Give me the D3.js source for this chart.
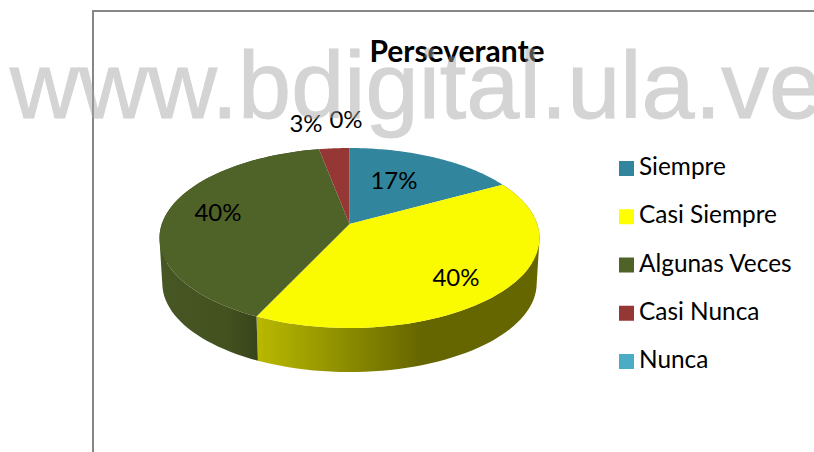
<!DOCTYPE html>
<html><head><meta charset="utf-8">
<script src="https://cdn.jsdelivr.net/npm/d3@7"></script>
<style>html,body{margin:0;padding:0;background:#fff}svg{display:block}</style>
</head><body><svg id="c" width="814" height="452"></svg>
<script>
const categories = ["Siempre","Casi Siempre","Algunas Veces","Casi Nunca","Nunca"];
const values = [17,40,40,3,0];
const labels = ["17%","40%","40%","3%","0%"];
const topColors = ["#31859c","#fafa00","#4f6228","#953735","#4bacc6"];
const legendColors = ["#31859c","#ffff00","#4f6228","#953735","#4bacc6"];
const title = "Perseverante";
const watermark = "www.bdigital.ula.ve";

const svg = d3.select("#c");
const defs = svg.append("defs");
const font = "Lato, 'Open Sans', sans-serif";

// frame
svg.append("path").attr("d","M93 452V11H814").attr("fill","none").attr("stroke","#868686").attr("stroke-width",2);

// perspective projection of the pie disc
const k=-0.1556, cx=349.5, cy=224, Rx=187.7, Ry=87.8;
const scaleX=d3.scaleLinear().domain([-1,1]).range([cx-Rx,cx+Rx]);
const scaleY=d3.scaleLinear().domain([-1,1]).range([cy-Ry,cy+Ry]);
function proj(a,r=1,s=1,dy=0){
  const x=r*Math.sin(a), y=-r*Math.cos(a), w=1+k*y;
  return [cx+(scaleX(x/w)-cx)*s, scaleY(y/w)+ (scaleY(y/w)-cy)*(s-1)+dy];
}
const pie=d3.pie().sort(null).value(d=>d)(values);
const arcPts=(a0,a1,s,dy)=>d3.range(0,65).map(i=>proj(a0+(a1-a0)*i/64,1,s,dy));
const line=d3.line();
const botS=0.985, botDy=45.6;

// wall gradients
function grad(id,x0,x1,stops){
  const g=defs.append("linearGradient").attr("id",id).attr("gradientUnits","userSpaceOnUse").attr("x1",x0).attr("x2",x1).attr("y1",0).attr("y2",0);
  stops.forEach(s=>g.append("stop").attr("offset",s[0]).attr("stop-color",s[1]));
}
grad("wall1",257,539,[[0,"#b9b900"],[0.58,"#666600"],[1,"#666600"]]);
grad("wall2",160,258,[[0,"#475724"],[0.7,"#43511f"],[1,"#37441b"]]);

const wallFill=["none","url(#wall1)","url(#wall2)","none","none"];
const walls=svg.append("g");
pie.forEach((p,i)=>{
  if(p.value===0||wallFill[i]==="none")return;
  const t=arcPts(p.startAngle,p.endAngle,1,0), b=arcPts(p.startAngle,p.endAngle,botS,botDy);
  // ruled side surface: one path of consistently wound quads
  const d=d3.range(t.length-1).map(j=>{
    const q=[t[j],t[j+1],b[j+1],b[j]];
    if(d3.polygonArea(q)<0)q.reverse();
    return line(q)+"Z";
  }).join("");
  walls.append("path").attr("d",d).attr("fill",wallFill[i]).attr("fill-rule","nonzero");
});
const tops=svg.append("g");
pie.forEach((p,i)=>{
  if(p.value===0)return;
  const pts=[proj(0,0)].concat(arcPts(p.startAngle,p.endAngle,1,0));
  tops.append("path").attr("d",line(pts)+"Z").attr("fill",topColors[i]);
});

// data labels
const labelPos=[[394,181],[456,278],[218,213],[306,124],[346,120]];
svg.append("g").selectAll("text").data(labels).join("text")
  .attr("x",(d,i)=>labelPos[i][0]).attr("y",(d,i)=>labelPos[i][1]+8)
  .attr("text-anchor","middle").attr("font-family",font).attr("font-size",24).attr("fill","#000").text(d=>d);

// title
svg.append("text").attr("x",457).attr("y",62).attr("text-anchor","middle").attr("font-family",font)
  .attr("font-weight",700).attr("font-size",30).attr("fill","#000").text(title);

// legend
const ly=d3.scalePoint().domain(categories).range([175,368]);
const lg=svg.append("g").selectAll("g").data(categories).join("g").attr("transform",d=>`translate(0,${ly(d)})`);
lg.append("rect").attr("x",619).attr("y",-14).attr("width",15).attr("height",15).attr("fill",(d,i)=>legendColors[i]);
lg.append("text").attr("x",639).attr("y",0).attr("font-family",font).attr("font-size",24.4).attr("fill","#000").text(d=>d);

// watermark
svg.append("text").attr("x",10).attr("y",117.5).attr("textLength",812).attr("lengthAdjust","spacingAndGlyphs")
  .attr("font-family","'Liberation Sans',sans-serif").attr("font-size",95).attr("fill","#a6a6a6").attr("stroke","#a6a6a6").attr("stroke-width",1).attr("opacity",0.48).text(watermark);
</script></body></html>
